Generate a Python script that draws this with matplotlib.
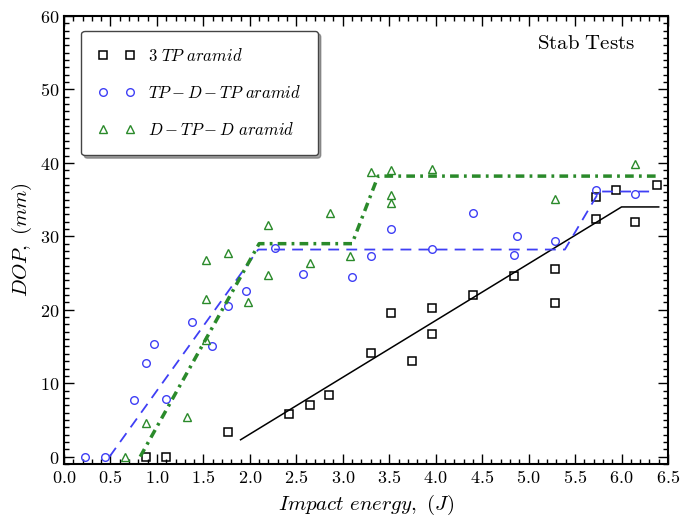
import matplotlib
matplotlib.use('Agg')
import matplotlib.pyplot as plt
from matplotlib.ticker import MultipleLocator, FuncFormatter

plt.rcParams['mathtext.fontset'] = 'cm'
plt.rcParams['font.family'] = 'serif'

# 3 TP aramid (squares)
tp3_x = [0.88, 1.10, 1.76, 2.42, 2.65, 2.85, 3.30, 3.52, 3.74, 3.96, 3.96, 4.40,
         4.84, 5.28, 5.28, 5.72, 5.72, 5.94, 6.15, 6.38]
tp3_y = [0.0, 0.0, 3.3, 5.85, 7.1, 8.4, 14.1, 19.5, 13.0, 20.2, 16.7, 22.0,
         24.6, 25.6, 20.9, 32.3, 35.4, 36.3, 31.9, 37.0]
tp3_fit_x = [1.90, 6.0, 6.4]
tp3_fit_y = [2.3, 34.0, 34.0]

# TP-D-TP aramid (circles)
tdt_x = [0.23, 0.44, 0.75, 0.88, 0.97, 1.10, 1.38, 1.59, 1.77, 1.96, 2.27, 2.57,
         3.10, 3.30, 3.52, 3.96, 4.40, 4.84, 4.88, 5.28, 5.72, 6.15]
tdt_y = [0.0, 0.0, 7.75, 12.7, 15.3, 7.8, 18.4, 15.1, 20.5, 22.6, 28.4, 24.9,
         24.5, 27.3, 31.0, 28.3, 33.2, 27.5, 30.0, 29.4, 36.3, 35.7]
tdt_fit_x = [0.49, 2.09, 5.39, 5.76, 6.37]
tdt_fit_y = [0.0, 28.2, 28.2, 36.1, 36.1]

# D-TP-D aramid (triangles)
dtd_x = [0.66, 0.88, 1.32, 1.53, 1.53, 1.53, 1.76, 1.98, 2.20, 2.20, 2.65, 2.86,
         3.08, 3.30, 3.52, 3.52, 3.52, 3.96, 5.28, 6.15]
dtd_y = [0.0, 4.6, 5.35, 26.8, 21.4, 15.9, 27.7, 21.0, 31.6, 24.8, 26.4, 33.2,
         27.3, 38.7, 39.0, 35.6, 34.5, 39.1, 35.1, 39.9]
dtd_fit_x = [0.82, 2.10, 3.10, 3.38, 6.41]
dtd_fit_y = [0.0, 29.0, 29.0, 38.2, 38.2]

blue = '#3f3ff5'
green = '#2a8a2a'

fig = plt.figure(figsize=(6.84, 5.24), dpi=100)
ax = fig.add_axes([0.0936, 0.1145, 0.883, 0.855])

ax.plot(tp3_x, tp3_y, 's', mfc='none', mec='black', ms=6, mew=1.1,
        label=r'$3\ TP\ aramid$')
ax.plot(tdt_x, tdt_y, 'o', mfc='none', mec=blue, ms=5.5, mew=1.0,
        label=r'$TP-D-TP\ aramid$')
ax.plot(dtd_x, dtd_y, '^', mfc='none', mec=green, ms=5.5, mew=1.0,
        label=r'$D-TP-D\ aramid$')

ax.plot(tp3_fit_x, tp3_fit_y, '-', color='black', lw=1.1)
ax.plot(tdt_fit_x, tdt_fit_y, '--', color=blue, lw=1.3, dashes=(6, 4))
ax.plot(dtd_fit_x, dtd_fit_y, color=green, lw=2.5, dashes=(2.5, 1.5, 0.8, 1.5))

ax.set_xlim(0, 6.5)
ax.set_ylim(-1, 60)
ax.xaxis.set_major_locator(MultipleLocator(0.5))
ax.xaxis.set_minor_locator(MultipleLocator(0.1))
ax.yaxis.set_major_locator(MultipleLocator(10))
ax.yaxis.set_minor_locator(MultipleLocator(1))
ax.xaxis.set_major_formatter(FuncFormatter(lambda v, p: r'$%.1f$' % v))
ax.yaxis.set_major_formatter(FuncFormatter(lambda v, p: r'$%d$' % v))
ax.tick_params(which='both', direction='in', top=True, right=True, labelsize=13)
ax.tick_params(which='major', length=7, width=1)
ax.tick_params(which='minor', length=3.5, width=1)
for s in ax.spines.values():
    s.set_linewidth(1.5)

ax.set_xlabel(r'$Impact\ energy,\ (J)$', fontsize=15)
ax.set_ylabel(r'$DOP,\ (mm)$', fontsize=15)

ax.text(0.945, 0.96, r'$\mathrm{Stab\ Tests}$', transform=ax.transAxes,
        ha='right', va='top', fontsize=15)

leg = ax.legend(loc='upper left', numpoints=2, fontsize=12, shadow=True,
                fancybox=True, borderpad=1.0, labelspacing=1.2,
                handlelength=2.2, bbox_to_anchor=(0.015, 0.985))
leg.get_frame().set_edgecolor('#444444')
leg.get_frame().set_linewidth(1.0)

plt.savefig('out.png', dpi=100)
